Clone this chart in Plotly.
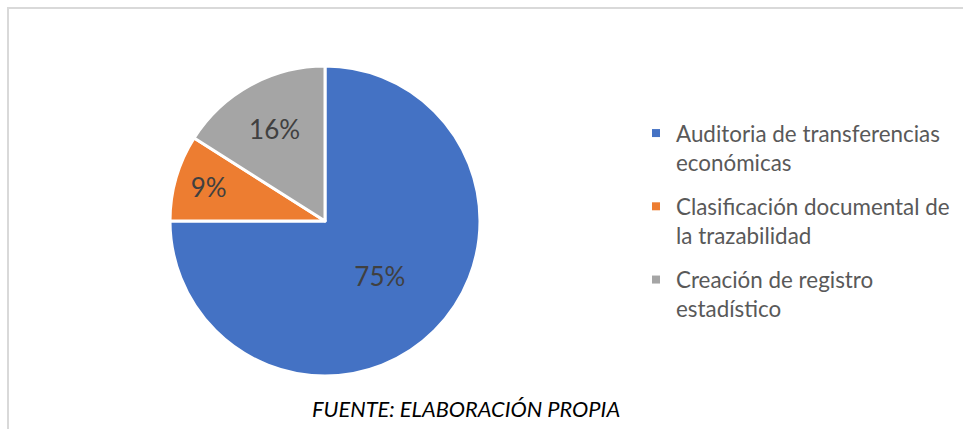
import plotly.graph_objects as go

labels = [
    "Auditoria de transferencias<br>económicas",
    "Clasificación documental de<br>la trazabilidad",
    "Creación de registro<br>estadístico",
]
values = [75, 9, 16]
colors = ["#4472C4", "#ED7D31", "#A5A5A5"]

W, H = 963, 429
font = "Lato, Open Sans, sans-serif"

fig = go.Figure()
fig.add_trace(
    go.Pie(
        labels=labels,
        values=values,
        sort=False,
        direction="clockwise",
        rotation=0,
        marker=dict(colors=colors, line=dict(color="white", width=3)),
        textposition="inside",
        insidetextorientation="horizontal",
        texttemplate="%{percent:.0%}",
        textfont=dict(family=font, size=26, color="#404040"),
        domain=dict(x=[170 / W, 480 / W], y=[(H - 376) / H, (H - 66) / H]),
        hoverinfo="label+percent",
        showlegend=False,
    )
)

# legend entries (one group per category so the gap between them can be set)
for i, (lab, col) in enumerate(zip(labels, colors)):
    fig.add_trace(
        go.Scatter(
            x=[None], y=[None], mode="markers", name=lab,
            marker=dict(symbol="square", size=8, color=col),
            legendgroup=str(i), showlegend=True, hoverinfo="skip",
        )
    )

# frame lines (top and left) like the original document box
fig.add_shape(type="line", xref="paper", yref="paper",
              x0=7 / W, x1=1, y0=(H - 8) / H, y1=(H - 8) / H,
              line=dict(color="#D9D9D9", width=2))
fig.add_shape(type="line", xref="paper", yref="paper",
              x0=8 / W, x1=8 / W, y0=0, y1=(H - 7) / H,
              line=dict(color="#D9D9D9", width=2))

fig.add_annotation(
    text="<i>FUENTE: ELABORACIÓN PROPIA</i>",
    xref="paper", yref="paper", x=466 / W, y=(H - 408) / H,
    showarrow=False, xanchor="center", yanchor="middle",
    font=dict(family=font, size=21.8, color="#000000"),
)

fig.update_layout(
    width=W,
    height=H,
    margin=dict(l=0, r=0, t=0, b=0),
    paper_bgcolor="white",
    plot_bgcolor="white",
    xaxis=dict(visible=False),
    yaxis=dict(visible=False),
    showlegend=True,
    legend=dict(
        x=636 / W, y=(H - 112) / H, xanchor="left", yanchor="top",
        valign="top",
        traceorder="grouped",
        tracegroupgap=12,
        font=dict(family=font, size=22.4, color="#595959"),
        bgcolor="rgba(0,0,0,0)",
    ),
)

fig.write_html("out.html", config={"displayModeBar": False},
               post_script="document.body.style.margin='0';")
